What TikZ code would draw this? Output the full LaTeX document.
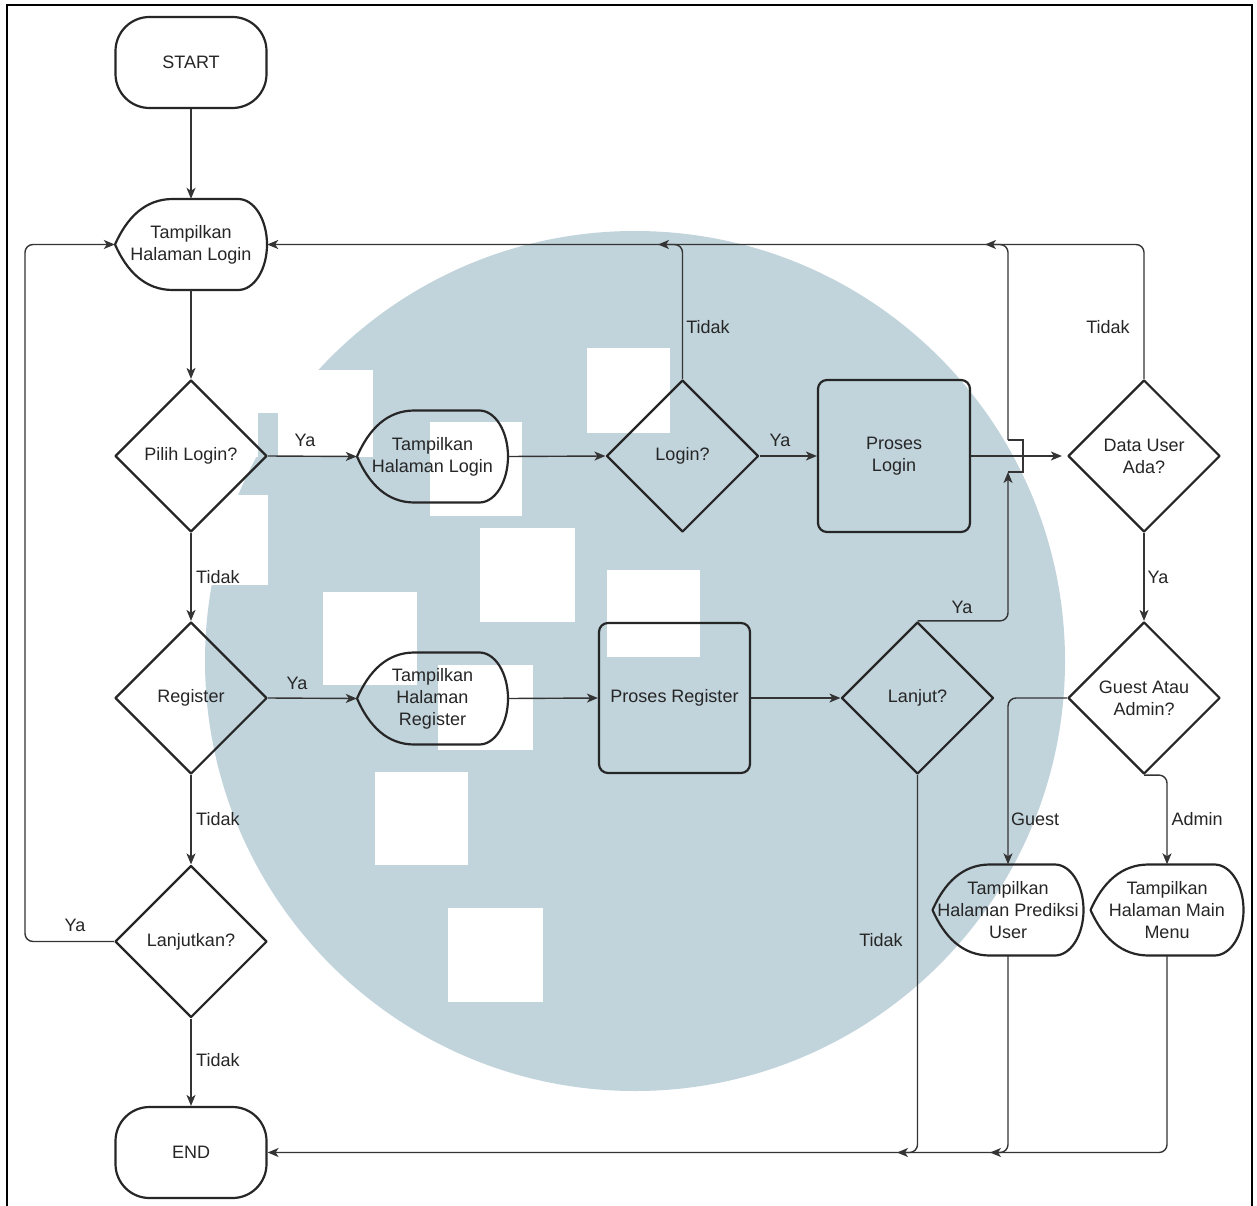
\documentclass[tikz,border=0pt]{standalone}
\usepackage{fontspec}
\setmainfont{Liberation Sans}
\usetikzlibrary{shapes.geometric,arrows.meta,calc}

\definecolor{emblem}{RGB}{193,211,219}
\definecolor{ink}{RGB}{38,38,38}
\definecolor{wire}{RGB}{52,52,52}

\tikzset{
  every node/.style={font=\fontsize{18}{22}\selectfont, text=ink, align=center},
  outline/.style={draw=ink, line width=2.2pt, line join=round},
  decision/.style={outline, diamond, minimum width=152pt, minimum height=152pt, inner sep=0pt},
  terminal/.style={outline, rectangle, rounded corners=34pt, minimum width=151pt, minimum height=91pt},
  process/.style={outline, rectangle, rounded corners=9pt, minimum width=152pt, minimum height=152pt},
  screen/.style={rectangle, inner sep=0pt},
  flow/.style={draw=wire, line width=1.4pt, rounded corners=8pt,
    -{Stealth[length=11pt,width=9pt,inset=3pt]}},
  hop/.style={draw=wire, line width=1.4pt, sharp corners},
  tag/.style={inner sep=1pt},
}

% display-shaped node: name, centre x, centre y, width, height, text
\newcommand{\screenbox}[6]{%
  \node[screen, minimum width=#4pt, minimum height=#5pt] (#1) at (#2,#3) {#6};
  \draw[outline]
    ({#2-#4/2},#3)
    .. controls ({#2-#4/2+0.08*#4},{#3-0.30*#5}) and ({#2-#4/2+0.20*#4},{#3-#5/2}) ..
    ({#2-#4/2+0.38*#4},{#3-#5/2}) -- ({#2+#4/2-0.19*#4},{#3-#5/2})
    .. controls ({#2+#4/2-0.085*#4},{#3-#5/2}) and ({#2+#4/2},{#3-0.275*#5}) ..
    ({#2+#4/2},#3)
    .. controls ({#2+#4/2},{#3+0.275*#5}) and ({#2+#4/2-0.085*#4},{#3+#5/2}) ..
    ({#2+#4/2-0.19*#4},{#3+#5/2}) -- ({#2-#4/2+0.38*#4},{#3+#5/2})
    .. controls ({#2-#4/2+0.20*#4},{#3+#5/2}) and ({#2-#4/2+0.08*#4},{#3+0.30*#5}) ..
    cycle;
}

\begin{document}
\begin{tikzpicture}[x=1pt, y=-1pt]
\useasboundingbox (0,0) rectangle (1257,1206);
\fill[white] (0,0) rectangle (1257,1206);

% background emblem: disc with a cut-out corner and pixel squares
\fill[emblem] (635,661) circle (430);
\fill[white] (190,370) rectangle (373,457);
\fill[emblem] (258,413) rectangle (278,457);
\foreach \xa/\ya/\xb/\yb in {
    430/422/522/516, 480/528/575/622, 323/592/417/685, 587/348/670/433,
    607/570/700/657, 375/772/468/865, 448/908/543/1002, 438/665/533/750,
    195/495/268/585}
  \fill[white] (\xa,\ya) rectangle (\xb,\yb);

% frame
\draw[line width=2.5pt, black] (7,1206) -- (7,5) -- (1252,5) -- (1252,1206);

% left column
\node[terminal] (start) at (191,62.5) {START};
\screenbox{showlogin}{191}{244.5}{152}{91}{Tampilkan\\Halaman Login}
\node[decision] (pilih) at (191,456) {Pilih Login?};
\node[decision] (register) at (191,698) {Register};
\node[decision] (lanjutkan) at (191,941.5) {Lanjutkan?};
\node[terminal] (finish) at (191,1152.5) {END};

% login row
\screenbox{loginpage}{432.5}{456.5}{151}{92}{Tampilkan\\Halaman Login}
\node[decision] (login) at (682.5,456) {Login?};
\node[process] (proseslogin) at (894,456) {Proses\\Login};
\node[decision] (datauser) at (1144,456) {Data User\\Ada?};

% register row
\screenbox{registerpage}{432.5}{698.5}{151}{92}{Tampilkan\\Halaman\\Register}
\node[process, minimum width=151pt, minimum height=150pt] (prosesreg) at (674.5,698) {Proses Register};
\node[decision] (lanjut) at (917.5,698) {Lanjut?};
\node[decision] (guest) at (1144,698) {Guest Atau\\Admin?};

% result pages
\screenbox{prediksi}{1008}{910}{151}{91}{Tampilkan\\Halaman Prediksi\\User}
\screenbox{mainmenu}{1167}{910}{153}{91}{Tampilkan\\Halaman Main\\Menu}

% helper points for merging connectors
\coordinate (loopx) at (25,0);
\coordinate (loginback) at (658,244.5);
\coordinate (hopbot) at (1008,472);
\coordinate (hoptop) at (1008,440);
\coordinate (hopout) at (1023,0);
\coordinate (yaback) at (985,244.5);
\coordinate (predback) at (990,1152.5);
\coordinate (lanjutback) at (897,1152.5);

% connectors: left column
\draw[flow] (start.south) -- (showlogin.north);
\draw[flow] (showlogin.south) -- (pilih.north);
\draw[flow] (pilih.south) -- (register.north);
\draw[flow] (register.south) -- (lanjutkan.north);
\draw[flow] (lanjutkan.south) -- (finish.north);
\draw[flow] (lanjutkan.west) -| (loopx |- showlogin.west) -- (showlogin.west);

% connectors: login row
\draw[flow] (pilih.east) -- (loginpage.west);
\draw[flow] (loginpage.east) -- (login.west);
\draw[flow] (login.east) -- (proseslogin.west);
\draw[flow, shorten >=5pt] (proseslogin.east) -- (datauser.west);
\draw[flow] (datauser.north) |- (showlogin.east);
\draw[flow] (login.north) |- (loginback);

% connectors: register row
\draw[flow] (register.east) -- (registerpage.west);
\draw[flow] (registerpage.east) -- (prosesreg.west);
\draw[flow] (prosesreg.east) -- (lanjut.west);
\draw[flow] (lanjut.north) -| (hopbot);
\draw[hop] (hopbot) -- (hopbot -| hopout) -- (hoptop -| hopout) -- (hoptop);
\draw[flow] (hoptop) |- (yaback);
\draw[flow] (lanjut.south) |- (lanjutback);

% connectors: right column
\draw[flow] (datauser.south) -- (guest.north);
\draw[flow] (guest.west) -| (prediksi.north);
\draw[flow] (guest.south) -| (mainmenu.north);
\draw[flow] (prediksi.south) |- (predback);
\draw[flow] (mainmenu.south) |- (finish.east);

% connector labels
\node[tag, anchor=west] (t1) at (195,577) {Tidak};
\node[tag, anchor=west] (t2) at (195,819) {Tidak};
\node[tag, anchor=west] (t3) at (195,1060) {Tidak};
\node[tag] (y1) at (75,925) {Ya};
\node[tag] (y2) at (305,440) {Ya};
\node[tag] (y3) at (297,683) {Ya};
\node[tag] (t4) at (708,327) {Tidak};
\node[tag] (y4) at (780,440) {Ya};
\node[tag] (t5) at (1108,327) {Tidak};
\node[tag] (y5) at (1158,577) {Ya};
\node[tag] (y6) at (962,607) {Ya};
\node[tag] (gl) at (1035,819) {Guest};
\node[tag] (al) at (1197,819) {Admin};
\node[tag] (t6) at (881,940) {Tidak};
\end{tikzpicture}
\end{document}
